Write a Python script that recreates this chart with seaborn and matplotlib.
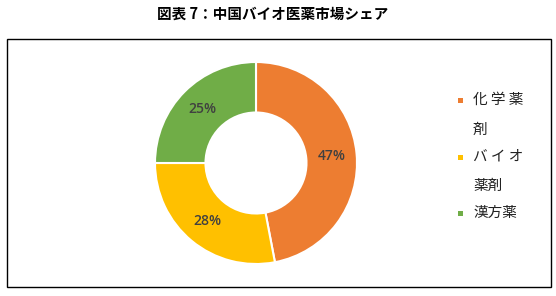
import matplotlib
matplotlib.use("Agg")
import matplotlib.pyplot as plt
import seaborn as sns
from matplotlib.patches import Rectangle

categories = ["化学薬剤", "バイオ薬剤", "漢方薬"]
legend_lines = [["化 学 薬", "剤"], ["バ イ オ", "薬剤"], ["漢方薬"]]
values = [47, 28, 25]
colors = ["#ED7D31", "#FFC000", "#70AD47"]
title = "図表 7：中国バイオ医薬市場シェア"

sns.set_theme(style="white")
plt.rcParams['font.family'] = ['Noto Sans CJK JP', 'DejaVu Sans']

W, H = 556, 296
fig = plt.figure(figsize=(W / 100, H / 100), dpi=100)
fig.patch.set_facecolor("white")

# border box
fig.add_artist(Rectangle((7 / W, (H - 287) / H), (551 - 7) / W, (287 - 39) / H,
                         transform=fig.transFigure, fill=False,
                         edgecolor="black", linewidth=1.0))

fig.text(273 / W, 1 - 14 / H, title, ha="center", va="center",
         fontsize=10.5, fontweight="bold", color="black")

cx, cy, r = 256, 163, 101
ax = fig.add_axes([(cx - r) / W, (H - cy - r) / H, 2 * r / W, 2 * r / H])
wedges, texts, autotexts = ax.pie(
    values, colors=colors, startangle=90, counterclock=False,
    autopct="%d%%", pctdistance=0.75,
    wedgeprops=dict(width=0.5, edgecolor="white", linewidth=1.5),
    textprops=dict(color="#404040", fontsize=10, fontweight="semibold",
                   family=["Open Sans", "DejaVu Sans"]))
ax.set_xlim(-1, 1)
ax.set_ylim(-1, 1)
ax.set_aspect("equal")
ax.axis("off")

row_y = [[100, 130], [157, 186], [213]]
for lines, ys, col in zip(legend_lines, row_y, colors):
    fig.add_artist(Rectangle((458 / W, 1 - (ys[0] + 3) / H), 5 / W, 5 / H,
                             transform=fig.transFigure, facecolor=col,
                             edgecolor="none"))
    for line, y in zip(lines, ys):
        fig.text(473 / W, 1 - y / H, line, ha="left", va="center",
                 fontsize=10.5, color="#222222")

fig.savefig("out.png", dpi=100, facecolor="white")
